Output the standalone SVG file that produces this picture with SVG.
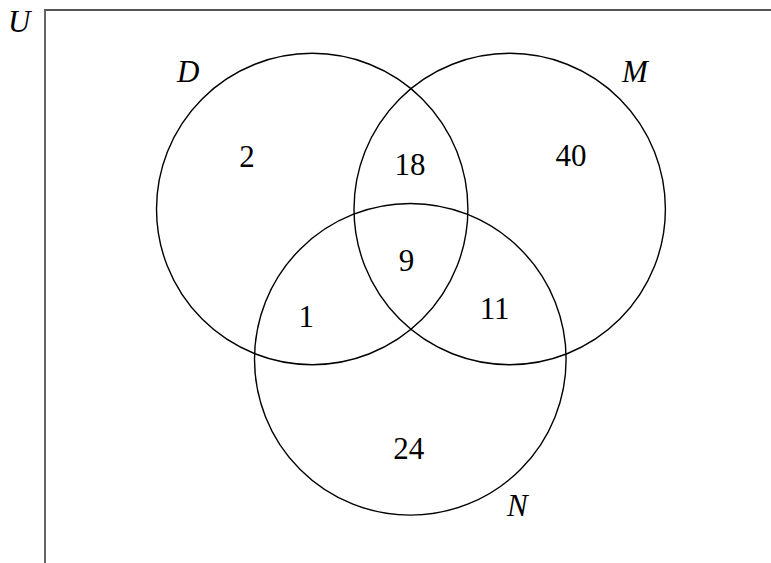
<svg xmlns="http://www.w3.org/2000/svg" width="771" height="563" viewBox="0 0 771 563">
<style>
.set{fill:none;stroke:#000;stroke-width:1.4}
.num{font-family:"Liberation Serif",serif;font-size:31px;fill:#000;text-anchor:middle}
.lab{font-family:"Liberation Serif",serif;font-size:31px;font-style:italic;fill:#000}
</style>
<rect width="771" height="563" fill="#fff"/>
<g id="universe">
<path d="M45,563 V10 H771" fill="none" stroke="#555" stroke-width="1.8"/>
<text class="lab" x="8" y="32">U</text>
</g>
<g id="setD">
<circle class="set" cx="312.2" cy="209" r="155.7"/>
<text class="lab" x="177" y="81.7">D</text>
</g>
<g id="setM">
<circle class="set" cx="509.7" cy="209" r="155.7"/>
<text class="lab" x="622" y="81.7">M</text>
</g>
<g id="setN">
<circle class="set" cx="410.3" cy="359.3" r="155.8"/>
<text class="lab" x="507" y="516">N</text>
</g>
<g id="counts">
<text class="num" x="247" y="166.7">2</text>
<text class="num" x="410" y="175">18</text>
<text class="num" x="571" y="165.7">40</text>
<text class="num" x="406.5" y="270.5">9</text>
<text class="num" x="306.3" y="327.3">1</text>
<text class="num" x="494.7" y="319.3">11</text>
<text class="num" x="408.7" y="459.3">24</text>
</g>
<g id="connectors"></g>
</svg>
